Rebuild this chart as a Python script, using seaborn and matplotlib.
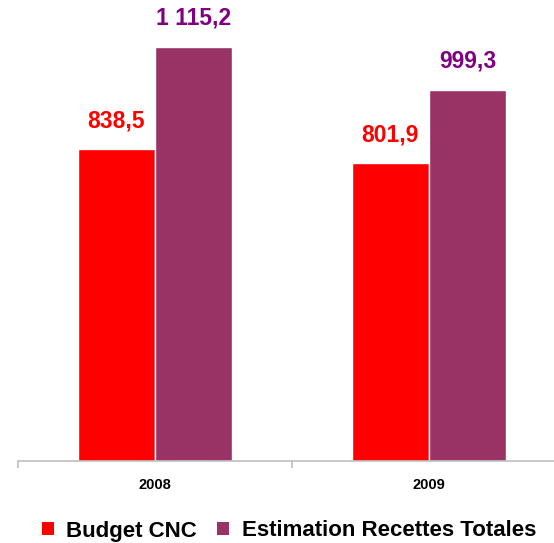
import matplotlib.pyplot as plt
import pandas as pd
import seaborn as sns
from matplotlib.patches import Patch

# data
years = ["2008", "2009"]
budget_cnc = [838.5, 801.9]
recettes_totales = [1115.2, 999.3]
series_names = ["Budget CNC", "Estimation Recettes Totales"]
value_labels = [["838,5", "801,9"], ["1 115,2", "999,3"]]

bar_colors = ["#FF0000", "#993366"]
text_colors = ["#FF0000", "#800080"]

sns.set_theme(style="white")
plt.rcParams['font.family'] = ['Liberation Sans', 'DejaVu Sans']
plt.rcParams['text.color'] = 'black'

df = pd.DataFrame({
    "year": years * 2,
    "value": budget_cnc + recettes_totales,
    "series": [series_names[0]] * 2 + [series_names[1]] * 2,
})

fig = plt.figure(figsize=(5.54, 5.43), dpi=100)
W, H = 554, 543
ax = fig.add_axes([18 / W, 82 / H, 548 / W, 446 / H])

sns.barplot(data=df, x="year", y="value", hue="series", order=years,
            hue_order=series_names, palette=bar_colors, width=0.565,
            edgecolor="white", linewidth=1, saturation=1, ax=ax,
            legend=False)

ax.set_xlim(-0.5, 1.5)
ax.set_ylim(0, 1200)

# value labels above bars
for container, labels, col in zip(ax.containers, value_labels, text_colors):
    ax.bar_label(container, labels=labels, padding=12, color=col,
                 fontsize=16.5, fontweight="bold")

for side in ["left", "right", "top"]:
    ax.spines[side].set_visible(False)
ax.spines["bottom"].set_color("#BFBFBF")
ax.spines["bottom"].set_linewidth(1.2)

ax.set_yticks([])
ax.set_xlabel("")
ax.set_ylabel("")
ax.set_xticks([0, 1])
ax.set_xticklabels(years, fontsize=10.5, fontweight="bold", color="black")
ax.tick_params(axis="x", which="major", length=0, pad=12)
ax.set_xticks([-0.5, 0.5, 1.5], minor=True)
ax.tick_params(axis="x", which="minor", length=5, color="#BFBFBF",
               width=1.2, direction="out")
ax.tick_params(axis="x", which="minor", bottom=True)

handles = [Patch(facecolor=c, edgecolor="none") for c in bar_colors]
fig.legend(handles, series_names, loc="center", bbox_to_anchor=(289 / W, 1 - 531 / H),
           ncol=2, frameon=False, prop={"size": 16, "weight": "bold"},
           labelcolor="black",
           handlelength=0.55, handleheight=0.55, handletextpad=0.55,
           columnspacing=0.9, borderaxespad=0)

fig.savefig("out.png", dpi=100)
